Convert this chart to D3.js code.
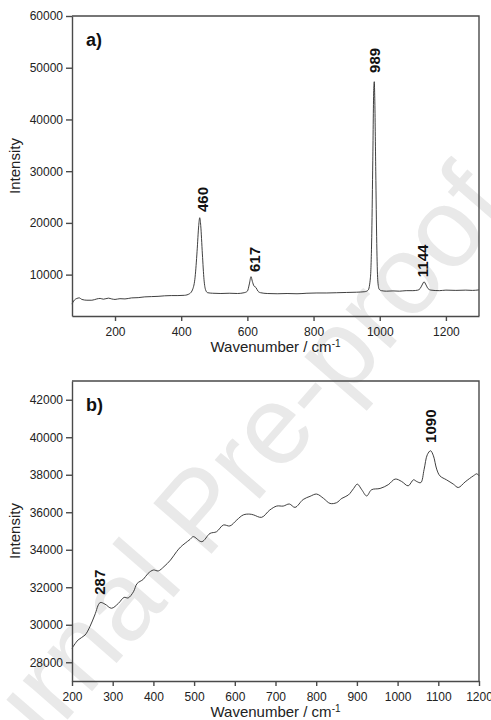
<!DOCTYPE html>
<html>
<head>
<meta charset="utf-8">
<script src="https://cdn.jsdelivr.net/npm/d3@7"></script>
<style>
  body { margin: 0; background: #fff; }
  svg text { font-family: "Liberation Sans", Arial, sans-serif; }
  .axis path, .axis line { stroke: #4a4a4a; stroke-width: 1.4; }
  .axis text { fill: #222; font-size: 12px; }
</style>
</head>
<body>
<svg id="chart"></svg>
<script>
// panel a) full spectrum
const waveA = [70, 75, 85, 92, 100, 115, 130, 145, 155, 165, 180, 190, 200, 215, 230, 250, 270, 290, 310, 330,
  350, 370, 390, 410, 425, 435, 442, 448, 453, 456, 459, 464, 469, 474, 480, 495, 520, 545, 570, 590,
  600, 606, 611, 615, 620, 626, 632, 640, 660, 690, 720, 750, 780, 810, 840, 870, 900, 930, 955, 965,
  972, 976, 979, 982, 983.5, 985, 988, 991, 994, 998, 1005, 1020, 1040, 1060, 1080, 1100, 1115, 1122, 1128, 1134,
  1140, 1146, 1155, 1180, 1200, 1230, 1260, 1280, 1300];
const intensityA = [4300, 4900, 5400, 5500, 5200, 5050, 5050, 5300, 5400, 5250, 5450, 5300, 5200, 5350, 5300, 5500, 5550, 5700, 5750, 5800,
  5900, 5950, 5950, 6000, 6300, 7200, 9500, 14500, 19500, 21000, 19500, 14000, 9000, 7000, 6500, 6400, 6350, 6400, 6350, 6500,
  6800, 8200, 9600, 8700, 7800, 7500, 6800, 6500, 6350, 6300, 6350, 6300, 6400, 6450, 6450, 6500, 6550, 6600, 6700, 7000,
  9500, 18000, 32000, 46000, 47300, 44000, 30000, 16000, 9000, 7200, 6900, 6800, 6850, 6800, 6900, 6900, 7000, 7300, 8000, 8600,
  8000, 7300, 7000, 6900, 7000, 6950, 7000, 6950, 7050];
const xTicksA = [200, 400, 600, 800, 1000, 1200];
const yTicksA = [10000, 20000, 30000, 40000, 50000, 60000];
const peakLabelsA = ["460", "617", "989", "1144"];
const peakXA = [465, 621, 983, 1131];
const peakYA = [22100, 10500, 49000, 9500];

// panel b) zoomed low-intensity spectrum
const waveB = [200, 215, 232, 244, 256, 269, 281, 297, 314, 328, 338, 351, 360, 375, 387, 400, 412, 426, 442, 457,
  467, 478, 490, 498, 519, 539, 555, 572, 588, 605, 621, 637, 646, 666, 686, 703, 719, 734, 748, 768,
  785, 801, 818, 834, 850, 863, 879, 892, 901, 912, 924, 936, 957, 977, 994, 1010, 1026, 1039, 1047, 1057,
  1065, 1073, 1081, 1088, 1096, 1104, 1120, 1137, 1149, 1166, 1186, 1195, 1200];
const intensityB = [28740, 29190, 29450, 29900, 30520, 31180, 31100, 30880, 31140, 31460, 31430, 31760, 32200, 32420, 32740, 32920, 32870, 33100, 33450, 33900,
  34150, 34350, 34550, 34700, 34430, 34870, 34960, 35320, 35270, 35590, 35860, 35900, 35860, 35730, 36120, 36330, 36330, 36440, 36260, 36680,
  36850, 36970, 36740, 36470, 36510, 36740, 36920, 37270, 37500, 37200, 36870, 37200, 37270, 37470, 37770, 37640, 37410, 37730, 37640, 37580,
  38270, 39070, 39280, 39010, 38300, 37940, 37730, 37500, 37320, 37620, 37940, 38050, 37940];
const xTicksB = [200, 300, 400, 500, 600, 700, 800, 900, 1000, 1100, 1200];
const yTicksB = [28000, 30000, 32000, 34000, 36000, 38000, 40000, 42000];
const peakLabelsB = ["287", "1090"];
const peakXB = [269, 1080];
const peakYB = [31600, 39700];

const svg = d3.select('#chart')
    .attr('width', 491)
    .attr('height', 720);

// faint watermark behind the panels
svg.append('text')
    .attr('transform', 'translate(228,535) rotate(-49)')
    .attr('text-anchor', 'middle')
    .style('font-size', '112px')
    .style('fill', '#e9e9e9')
    .text('Journal Pre-proof');

class SpectrumPanel {
    constructor(_config, _x, _y, _labels){
        this.config = {
            top: _config.top,
            left: 72,
            width: 407,
            height: 300,
            xDomain: _config.xDomain,
            yDomain: _config.yDomain,
            xTicks: _config.xTicks,
            yTicks: _config.yTicks,
            tag: _config.tag,
            curve: _config.curve
        }
        this.data = _x.map((d, i) => ({x: d, y: _y[i]}));
        this.labels = _labels;
        this.initVis();
    }

    initVis(){
        let vis = this;
        vis.chart = svg.append('g')
            .attr('transform', `translate(${vis.config.left}, ${vis.config.top})`);

        vis.xScale = d3.scaleLinear().domain(vis.config.xDomain).range([0, vis.config.width]);
        vis.yScale = d3.scaleLinear().domain(vis.config.yDomain).range([vis.config.height, 0]);

        vis.renderVis();
    }

    renderVis(){
        let vis = this;
        const w = vis.config.width, h = vis.config.height;

        const line = d3.line()
            .x(d => vis.xScale(d.x))
            .y(d => vis.yScale(d.y))
            .curve(vis.config.curve);

        vis.chart.append('path')
            .datum(vis.data)
            .attr('d', line)
            .attr('fill', 'none')
            .attr('stroke', '#2a2a2a')
            .attr('stroke-width', 0.9);

        // frame on top and right
        vis.chart.append('path')
            .attr('d', `M0,0H${w}V${h}`)
            .attr('fill', 'none')
            .attr('stroke', '#4a4a4a')
            .attr('stroke-width', 1.4);

        vis.chart.append('g')
            .attr('class', 'axis')
            .attr('transform', `translate(0, ${h})`)
            .call(d3.axisBottom(vis.xScale).tickValues(vis.config.xTicks).tickSize(5).tickPadding(6).tickSizeOuter(0).tickFormat(d3.format('d')));

        vis.chart.append('g')
            .attr('class', 'axis')
            .call(d3.axisLeft(vis.yScale).tickValues(vis.config.yTicks).tickSize(6).tickPadding(3).tickSizeOuter(0).tickFormat(d3.format('d')));

        vis.chart.selectAll('.peak')
            .data(vis.labels)
            .enter()
            .append('text')
                .attr('class', 'peak')
                .attr('transform', d => `translate(${vis.xScale(d.x)}, ${vis.yScale(d.y)}) rotate(-90)`)
                .attr('dy', '0.36em')
                .style('font-size', '15px')
                .style('font-weight', 'bold')
                .style('fill', '#111')
                .text(d => d.text);

        vis.chart.append('text')
            .attr('x', 14)
            .attr('y', 30)
            .style('font-size', '18px')
            .style('font-weight', 'bold')
            .style('fill', '#111')
            .text(vis.config.tag);

        vis.chart.append('text')
            .attr('transform', `translate(-52, ${h / 2}) rotate(-90)`)
            .attr('text-anchor', 'middle')
            .style('font-size', '15px')
            .style('fill', '#222')
            .text('Intensity');

        const xt = vis.chart.append('text')
            .attr('x', w / 2)
            .attr('y', h + 36)
            .attr('text-anchor', 'middle')
            .style('font-size', '15px')
            .style('fill', '#222');
        xt.append('tspan').text('Wavenumber / cm');
        xt.append('tspan').attr('dy', '-0.5em').style('font-size', '10px').text('-1');
    }
}

const labelsA = peakLabelsA.map((t, i) => ({text: t, x: peakXA[i], y: peakYA[i]}));
const labelsB = peakLabelsB.map((t, i) => ({text: t, x: peakXB[i], y: peakYB[i]}));

new SpectrumPanel({top: 16, xDomain: [70, 1300], yDomain: [2000, 60000], xTicks: xTicksA, yTicks: yTicksA,
    tag: 'a)', curve: d3.curveMonotoneX}, waveA, intensityA, labelsA);
new SpectrumPanel({top: 381, xDomain: [200, 1200], yDomain: [27000, 43000], xTicks: xTicksB, yTicks: yTicksB,
    tag: 'b)', curve: d3.curveCatmullRom}, waveB, intensityB, labelsB);
</script>
</body>
</html>
